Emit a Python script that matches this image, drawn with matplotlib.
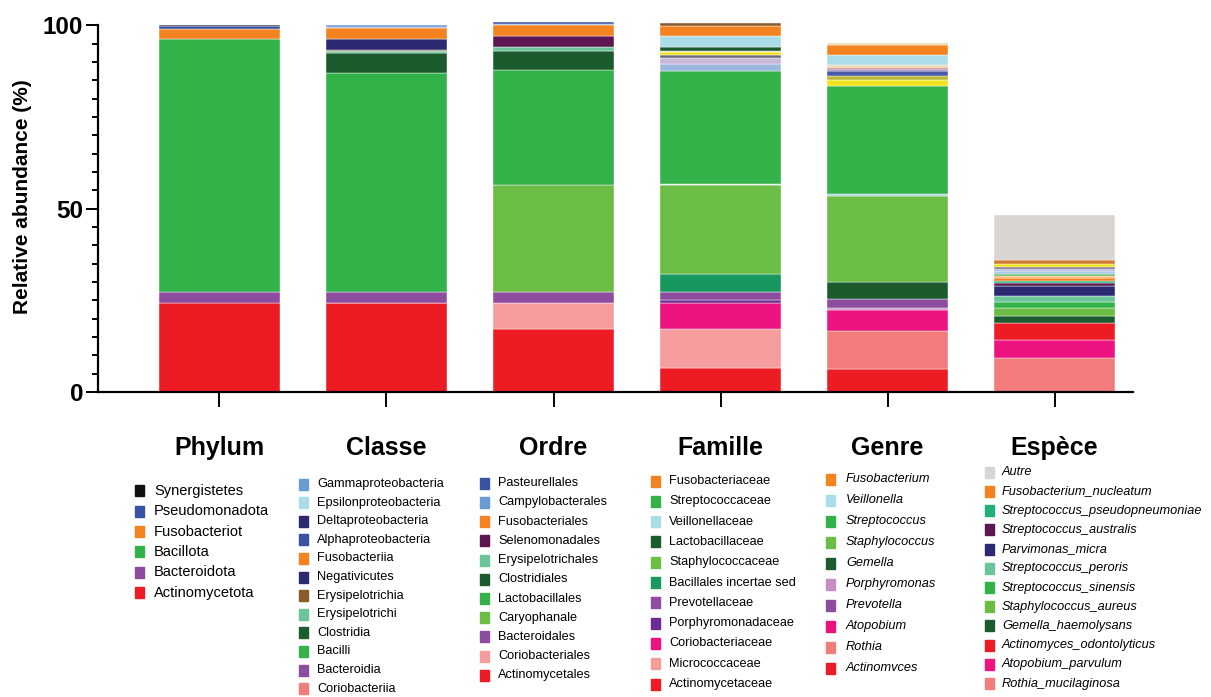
import matplotlib
matplotlib.use('Agg')
import numpy as np
import matplotlib.pyplot as plt
from matplotlib.patches import Rectangle
from matplotlib.ticker import MultipleLocator

plt.rcParams['font.family'] = ['Liberation Sans', 'DejaVu Sans']

niveaux = ['Phylum', 'Classe', 'Ordre', 'Famille', 'Genre', 'Espèce']

# segments de chaque barre, du bas vers le haut (%)
phylum_noms = ['Actinomycetota', 'Bacteroidota', 'Bacillota', 'Fusobacteriot',
               'Pseudomonadota', 'Synergistetes']
phylum_vals = [24.2, 3.0, 69.0, 2.7, 1.0, 0.1]

classe_noms = ['Actinobacteria', 'Coriobacteriia', 'Bacteroidia', 'Bacilli', 'Clostridia',
               'Erysipelotrichi', 'Erysipelotrichia', 'Negativicutes', 'Fusobacteriia',
               'Alphaproteobacteria', 'Deltaproteobacteria', 'Epsilonproteobacteria',
               'Gammaproteobacteria']
classe_vals = [24.2, 0.0, 3.0, 59.7, 5.5, 0.6, 0.4, 2.9, 3.1, 0.05, 0.05, 0.1, 0.4]

ordre_noms = ['Actinomycetales', 'Coriobacteriales', 'Bacteroidales', 'Caryophanale',
              'Lactobacillales', 'Clostridiales', 'Erysipelotrichales', 'Selenomonadales',
              'Fusobacteriales', 'Campylobacterales', 'Pasteurellales']
ordre_vals = [17.1, 7.1, 3.0, 29.2, 31.3, 5.3, 1.1, 3.0, 3.1, 0.1, 0.5]

famille_noms = ['Actinomycetaceae', 'Micrococcaceae', 'Coriobacteriaceae', 'Porphyromonadaceae',
                'Prevotellaceae', 'Bacillales incertae sed', 'Staphylococcaceae', 'autre famille 0',
                'Streptococcaceae', 'autre famille 1', 'autre famille 2', 'autre famille 3',
                'autre famille 4', 'autre famille 5', 'Lactobacillaceae', 'Veillonellaceae',
                'Fusobacteriaceae', 'autre famille 6']
famille_vals = [6.5, 10.6, 7.2, 0.8, 2.2, 4.9, 24.2, 0.3, 30.9, 1.8, 1.7, 0.9, 0.6, 0.5,
                1.1, 2.8, 2.9, 0.7]

genre_noms = ['Actinomvces', 'Rothia', 'Atopobium', 'Porphyromonas', 'Prevotella', 'Gemella',
              'Staphylococcus', 'autre genre 0', 'Streptococcus', 'autre genre 1',
              'autre genre 2', 'autre genre 3', 'autre genre 4', 'autre genre 5',
              'autre genre 6', 'Veillonella', 'Fusobacterium', 'autre genre 7']
genre_vals = [6.2, 10.5, 5.6, 0.6, 2.4, 4.8, 23.4, 0.5, 29.4, 1.6, 1.2, 1.4, 0.5, 0.4,
              0.7, 2.7, 2.7, 0.5]

espece_noms = ['Rothia_mucilaginosa', 'Atopobium_parvulum', 'Actinomyces_odontolyticus',
               'Gemella_haemolysans', 'Staphylococcus_aureus', 'Streptococcus_sinensis',
               'Streptococcus_peroris', 'Parvimonas_micra', 'Streptococcus_australis',
               'Streptococcus_pseudopneumoniae', 'Fusobacterium_nucleatum', 'autre espèce 1',
               'autre espèce 2', 'autre espèce 3', 'autre espèce 4', 'autre espèce 5',
               'autre espèce 6', 'autre espèce 7', 'Autre']
espece_vals = [9.4, 4.8, 4.5, 2.0, 2.3, 1.6, 1.6, 2.8, 0.6, 0.6, 0.9, 0.6, 0.6, 0.7, 0.6,
               0.6, 0.7, 1.0, 12.3]

couleurs = {
    'Synergistetes': '#111111', 'Pseudomonadota': '#3953A4', 'Fusobacteriot': '#F58220',
    'Bacillota': '#34B24A', 'Bacteroidota': '#8E4C9F', 'Actinomycetota': '#ED1C24',

    'Gammaproteobacteria': '#6A9BD5', 'Epsilonproteobacteria': '#AADDE8',
    'Deltaproteobacteria': '#2B2A73', 'Alphaproteobacteria': '#3953A4',
    'Fusobacteriia': '#F58220', 'Negativicutes': '#2B2A73', 'Erysipelotrichia': '#8B5A2B',
    'Erysipelotrichi': '#6CC49A', 'Clostridia': '#1B5B2E', 'Bacilli': '#34B24A',
    'Bacteroidia': '#8E4C9F', 'Coriobacteriia': '#F27B7B', 'Actinobacteria': '#ED1C24',

    'Pasteurellales': '#3953A4', 'Campylobacterales': '#6A9BD5', 'Fusobacteriales': '#F58220',
    'Selenomonadales': '#5E1650', 'Erysipelotrichales': '#6CC49A', 'Clostridiales': '#1B5B2E',
    'Lactobacillales': '#34B24A', 'Caryophanale': '#6CBD45', 'Bacteroidales': '#8E4C9F',
    'Coriobacteriales': '#F49C9E', 'Actinomycetales': '#ED1C24',

    'Fusobacteriaceae': '#F58220', 'Streptococcaceae': '#34B24A', 'Veillonellaceae': '#AADDE8',
    'Lactobacillaceae': '#1B5B2E', 'Staphylococcaceae': '#6CBD45',
    'Bacillales incertae sed': '#16985E', 'Prevotellaceae': '#8E4C9F',
    'Porphyromonadaceae': '#6B2C91', 'Coriobacteriaceae': '#EC1380',
    'Micrococcaceae': '#F49C9E', 'Actinomycetaceae': '#ED1C24',
    'autre famille 0': '#D8ECE4', 'autre famille 1': '#9DB8E0', 'autre famille 2': '#C8B8D8',
    'autre famille 3': '#6A6A7A', 'autre famille 4': '#F2E21E', 'autre famille 5': '#F2C8B0',
    'autre famille 6': '#8B5A2B',

    'Fusobacterium': '#F58220', 'Veillonella': '#AADDE8', 'Streptococcus': '#34B24A',
    'Staphylococcus': '#6CBD45', 'Gemella': '#1B5B2E', 'Porphyromonas': '#C48EC4',
    'Prevotella': '#8E4C9F', 'Atopobium': '#EC1380', 'Rothia': '#F27B7B',
    'Actinomvces': '#ED1C24',
    'autre genre 0': '#A8D4E8', 'autre genre 1': '#F2E21E', 'autre genre 2': '#BDB83A',
    'autre genre 3': '#4A5AA8', 'autre genre 4': '#A888C0', 'autre genre 5': '#B03030',
    'autre genre 6': '#E8D8B0', 'autre genre 7': '#E8D8B0',

    'Autre': '#D8D5D3', 'Fusobacterium_nucleatum': '#F58220',
    'Streptococcus_pseudopneumoniae': '#22B07A', 'Streptococcus_australis': '#5E1650',
    'Parvimonas_micra': '#2B2A73', 'Streptococcus_peroris': '#6CC49A',
    'Streptococcus_sinensis': '#34B24A', 'Staphylococcus_aureus': '#6CBD45',
    'Gemella_haemolysans': '#1B5B2E', 'Actinomyces_odontolyticus': '#ED1C24',
    'Atopobium_parvulum': '#EC1380', 'Rothia_mucilaginosa': '#F27B7B',
    'autre espèce 1': '#F8B070', 'autre espèce 2': '#5CB85C', 'autre espèce 3': '#A8CCE8',
    'autre espèce 4': '#B8A8D8', 'autre espèce 5': '#6A6A8A', 'autre espèce 6': '#F2E21E',
    'autre espèce 7': '#D07A30',
}

# entrées de légende (de haut en bas)
leg_phylum = phylum_noms[::-1]
leg_classe = classe_noms[:0:-1]
leg_ordre = ordre_noms[::-1]
leg_famille = ['Fusobacteriaceae', 'Streptococcaceae', 'Veillonellaceae', 'Lactobacillaceae',
               'Staphylococcaceae', 'Bacillales incertae sed', 'Prevotellaceae',
               'Porphyromonadaceae', 'Coriobacteriaceae', 'Micrococcaceae', 'Actinomycetaceae']
leg_genre = ['Fusobacterium', 'Veillonella', 'Streptococcus', 'Staphylococcus', 'Gemella',
             'Porphyromonas', 'Prevotella', 'Atopobium', 'Rothia', 'Actinomvces']
leg_espece = ['Autre', 'Fusobacterium_nucleatum', 'Streptococcus_pseudopneumoniae',
              'Streptococcus_australis', 'Parvimonas_micra', 'Streptococcus_peroris',
              'Streptococcus_sinensis', 'Staphylococcus_aureus', 'Gemella_haemolysans',
              'Actinomyces_odontolyticus', 'Atopobium_parvulum', 'Rothia_mucilaginosa']

W, H = 1211, 697
fig = plt.figure(figsize=(W / 100, H / 100), dpi=100)
ax = fig.add_axes([98 / W, 305 / H, (1133 - 98) / W, 374 / H])

barres = [(phylum_noms, phylum_vals), (classe_noms, classe_vals), (ordre_noms, ordre_vals),
          (famille_noms, famille_vals), (genre_noms, genre_vals), (espece_noms, espece_vals)]
for i, (noms, vals) in enumerate(barres):
    bas = 0
    for nom, v in zip(noms, vals):
        ax.bar(i, v, bottom=bas, width=0.72, color=couleurs[nom],
               edgecolor='white', linewidth=0.3, clip_on=False)
        bas += v

ax.set_xlim(-0.7275, 5.47)
ax.set_ylim(0, 102)
ax.spines['top'].set_visible(False)
ax.spines['right'].set_visible(False)
ax.spines['left'].set_bounds(0, 100)
for s in ['left', 'bottom']:
    ax.spines[s].set_linewidth(1.6)
ax.set_yticks([0, 50, 100])
ax.yaxis.set_minor_locator(MultipleLocator(5))
ax.tick_params(axis='y', which='major', length=8.6, width=1.4, labelsize=17.5, pad=2)
ax.tick_params(axis='y', which='minor', length=4.3, width=1.4)
for lab in ax.get_yticklabels():
    lab.set_fontweight('bold')
ax.set_xticks(range(len(niveaux)))
ax.set_xticklabels(niveaux, fontsize=18, fontweight='bold')
ax.tick_params(axis='x', length=10.8, width=1.4, pad=21)

fig.text(22.5 / W, 1 - 197 / H, 'Relative abundance (%)', rotation=90, fontsize=15,
         fontweight='bold', ha='center', va='center')


def colonne_legende(noms, x_carre, x_texte, y_haut, pas, taille, style='normal'):
    for k, nom in enumerate(noms):
        y = y_haut + k * pas
        fig.patches.append(Rectangle((x_carre / W, 1 - (y + 5.5) / H), 9 / W, 11 / H,
                                     transform=fig.transFigure, color=couleurs[nom],
                                     figure=fig))
        fig.text(x_texte / W, 1 - y / H, nom, fontsize=taille, style=style,
                 ha='left', va='center')


colonne_legende(leg_phylum, 135, 154, 490.7, 20.4, 10.5)
colonne_legende(leg_classe, 299, 317, 484, 18.6, 9.2)
colonne_legende(leg_ordre, 480, 498, 483.3, 19.2, 9.2)
colonne_legende(leg_famille, 651, 669, 481, 20.3, 9.2)
colonne_legende(leg_genre, 826, 846, 479, 21.0, 9.2, 'italic')
colonne_legende(leg_espece, 985, 1002, 472.3, 19.2, 9.2, 'italic')

plt.savefig('out.png', dpi=100)
